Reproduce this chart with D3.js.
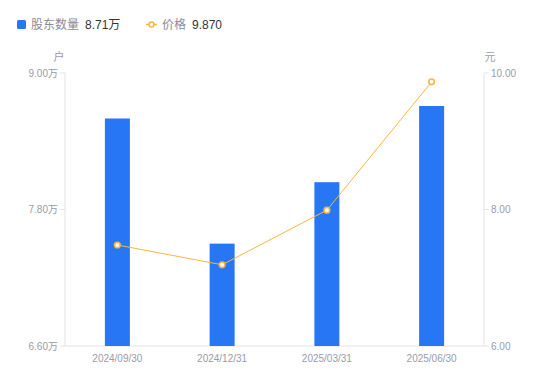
<!DOCTYPE html>
<html>
<head>
<meta charset="utf-8">
<script src="https://cdn.jsdelivr.net/npm/d3@7"></script>
<style>
  body { margin: 0; background: #fff; }
  svg { font-family: "Liberation Sans", "Noto Sans CJK SC", sans-serif; }
</style>
</head>
<body>
<svg id="chart" width="550" height="381"></svg>
<script>
const dates = ["2024/09/30", "2024/12/31", "2025/03/31", "2025/06/30"];
const holders = [8.60, 7.50, 8.04, 8.71];   // 万户
const prices = [7.48, 7.19, 7.99, 9.87];    // 元
const leftTicks = [6.6, 7.8, 9.0];
const rightTicks = [6, 8, 10];

const width = 550, height = 381;
const m = { top: 73, right: 66, bottom: 35, left: 65 };
const svg = d3.select("#chart");

const x = d3.scaleBand()
  .domain(dates)
  .range([m.left, width - m.right]);
const yL = d3.scaleLinear().domain([6.6, 9.0]).range([height - m.bottom, m.top]);
const yR = d3.scaleLinear().domain([6, 10]).range([height - m.bottom, m.top]);

const axisColor = "#e3e3e8";
const textColor = "#9a9aab";

// axes lines
const g = svg.append("g");
g.append("line").attr("x1", m.left).attr("x2", m.left)
  .attr("y1", m.top).attr("y2", height - m.bottom).attr("stroke", axisColor);
g.append("line").attr("x1", width - m.right).attr("x2", width - m.right)
  .attr("y1", m.top).attr("y2", height - m.bottom).attr("stroke", axisColor);
g.append("line").attr("x1", m.left).attr("x2", width - m.right)
  .attr("y1", height - m.bottom).attr("y2", height - m.bottom).attr("stroke", axisColor);

// left ticks
leftTicks.forEach(t => {
  g.append("line").attr("x1", m.left - 5).attr("x2", m.left)
    .attr("y1", yL(t)).attr("y2", yL(t)).attr("stroke", axisColor);
  g.append("text").attr("x", m.left - 7).attr("y", yL(t)).attr("dy", "0.35em")
    .attr("text-anchor", "end").attr("font-size", 10).attr("fill", textColor)
    .text(t.toFixed(2) + "万");
});
// right ticks
rightTicks.forEach(t => {
  g.append("line").attr("x1", width - m.right).attr("x2", width - m.right + 5)
    .attr("y1", yR(t)).attr("y2", yR(t)).attr("stroke", axisColor);
  g.append("text").attr("x", width - m.right + 7).attr("y", yR(t)).attr("dy", "0.35em")
    .attr("text-anchor", "start").attr("font-size", 10).attr("fill", textColor)
    .text(t.toFixed(2));
});
// unit labels
g.append("text").attr("x", 59).attr("y", 61).attr("text-anchor", "middle")
  .attr("font-size", 11).attr("fill", textColor).text("户");
g.append("text").attr("x", 490).attr("y", 61).attr("text-anchor", "middle")
  .attr("font-size", 11).attr("fill", textColor).text("元");

// x labels
dates.forEach(d => {
  g.append("text").attr("x", x(d) + x.bandwidth() / 2).attr("y", height - m.bottom + 16)
    .attr("text-anchor", "middle").attr("font-size", 10).attr("fill", textColor).text(d);
});

// bars
const barW = 25;
svg.append("g").selectAll("rect").data(holders).join("rect")
  .attr("x", (d, i) => x(dates[i]) + x.bandwidth() / 2 - barW / 2)
  .attr("y", d => yL(d))
  .attr("width", barW)
  .attr("height", d => yL(6.6) - yL(d))
  .attr("fill", "#2777f5");

// price line
const line = d3.line()
  .x((d, i) => x(dates[i]) + x.bandwidth() / 2)
  .y(d => yR(d));
svg.append("path").datum(prices).attr("d", line)
  .attr("fill", "none").attr("stroke", "#f9b53f").attr("stroke-width", 1);
svg.append("g").selectAll("circle").data(prices).join("circle")
  .attr("cx", (d, i) => x(dates[i]) + x.bandwidth() / 2)
  .attr("cy", d => yR(d))
  .attr("r", 2.8)
  .attr("fill", "#fff")
  .attr("stroke", "#f9b53f")
  .attr("stroke-width", 1.6);

// legend
const lg = svg.append("g");
lg.append("rect").attr("x", 17).attr("y", 20).attr("width", 9).attr("height", 9)
  .attr("rx", 1.5).attr("fill", "#2777f5");
lg.append("text").attr("x", 31).attr("y", 24.5).attr("dy", "0.35em")
  .attr("font-size", 12).attr("fill", "#8a8a99").text("股东数量");
lg.append("text").attr("x", 85).attr("y", 24.5).attr("dy", "0.35em")
  .attr("font-size", 12).attr("fill", "#333").text(holders[3].toFixed(2) + "万");
lg.append("line").attr("x1", 146).attr("x2", 157).attr("y1", 24.5).attr("y2", 24.5)
  .attr("stroke", "#f9b53f").attr("stroke-width", 1.5);
lg.append("circle").attr("cx", 151.5).attr("cy", 24.5).attr("r", 2.5)
  .attr("fill", "#fff").attr("stroke", "#f9b53f").attr("stroke-width", 1.5);
lg.append("text").attr("x", 162).attr("y", 24.5).attr("dy", "0.35em")
  .attr("font-size", 12).attr("fill", "#8a8a99").text("价格");
lg.append("text").attr("x", 192).attr("y", 24.5).attr("dy", "0.35em")
  .attr("font-size", 12).attr("fill", "#333").text(prices[3].toFixed(3));
</script>
</body>
</html>
